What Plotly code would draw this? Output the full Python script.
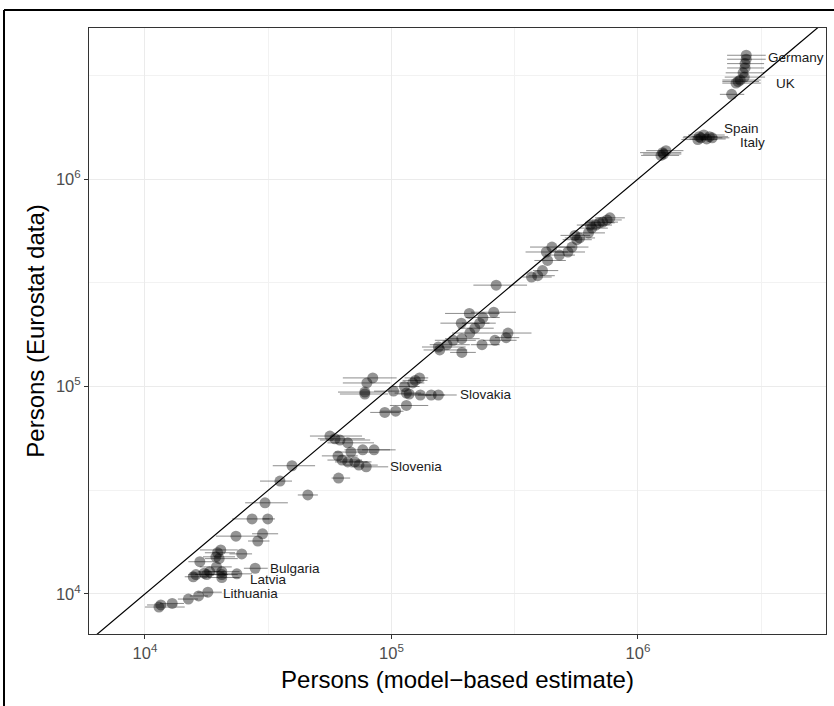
import numpy as np
import plotly.graph_objects as go

# Model-based estimate (x), its interval, and Eurostat value (y)
estimate = [
    1.14e4, 1.16e4, 1.29e4, 1.50e4, 1.65e4, 1.80e4,
    1.57e4, 1.61e4, 1.74e4, 1.78e4, 2.05e4, 2.05e4, 2.36e4, 2.80e4, 1.67e4, 1.94e4,
    2.00e4, 1.95e4, 2.03e4, 2.47e4, 1.97e4, 2.05e4, 1.83e4,
    2.34e4, 3.00e4, 2.87e4, 2.72e4, 3.15e4, 3.07e4, 3.53e4, 3.95e4, 4.58e4, 6.10e4,
    5.63e4, 5.90e4, 6.18e4, 6.65e4, 7.65e4, 8.50e4, 6.85e4, 6.07e4, 6.30e4, 6.65e4,
    7.10e4, 7.38e4, 7.90e4,
    8.40e4, 7.95e4, 7.80e4, 7.80e4, 1.25e5, 1.30e5, 1.22e5, 1.13e5, 1.02e5, 1.15e5,
    1.18e5, 1.31e5, 1.45e5, 1.55e5, 1.15e5, 1.04e5, 9.40e4,
    2.66e5, 2.60e5, 2.07e5, 2.35e5, 2.28e5, 1.92e5, 2.18e5, 2.08e5, 1.93e5, 1.78e5,
    1.68e5, 1.57e5, 1.55e5, 1.93e5, 2.33e5, 2.63e5, 2.92e5, 2.97e5,
    3.70e5, 3.92e5, 4.10e5, 4.30e5, 4.25e5, 4.48e5, 4.80e5, 5.20e5, 5.40e5, 5.65e5,
    5.80e5, 5.55e5, 6.30e5, 6.50e5, 6.75e5, 6.98e5, 7.20e5, 7.50e5, 7.70e5, 6.40e5,
    1.26e6, 1.27e6, 1.24e6, 1.30e6,
    1.80e6, 1.95e6, 1.75e6, 1.85e6, 2.00e6, 1.77e6, 1.90e6,
    2.40e6, 2.50e6, 2.55e6, 2.60e6, 2.67e6, 2.72e6, 2.72e6, 2.75e6, 2.75e6, 2.70e6,
]
estimate_lo = [
    1.00e4, 1.02e4, 1.15e4, 1.36e4, 1.52e4, 1.63e4,
    1.45e4, 1.50e4, 1.52e4, 1.60e4, 1.75e4, 1.80e4, 2.05e4, 2.52e4, 1.50e4, 1.72e4,
    1.75e4, 1.67e4, 1.67e4, 2.20e4, 1.75e4, 1.80e4, 1.64e4,
    1.94e4, 2.72e4, 2.62e4, 2.26e4, 3.00e4, 2.55e4, 2.93e4, 3.30e4, 4.17e4, 5.72e4,
    4.67e4, 5.03e4, 5.13e4, 5.50e4, 6.45e4, 7.60e4, 5.90e4, 5.22e4, 5.50e4, 5.90e4,
    6.18e4, 6.45e4, 6.82e4,
    6.35e4, 6.35e4, 6.07e4, 6.18e4, 1.11e5, 1.13e5, 1.08e5, 1.00e5, 8.50e4, 1.03e5,
    1.06e5, 1.13e5, 1.28e5, 1.37e5, 9.85e4, 9.00e4, 8.20e4,
    2.15e5, 2.10e5, 1.65e5, 2.00e5, 1.93e5, 1.58e5, 1.86e5, 1.76e5, 1.65e5, 1.50e5,
    1.43e5, 1.35e5, 1.33e5, 1.73e5, 2.10e5, 2.35e5, 2.63e5, 2.50e5,
    3.40e5, 3.60e5, 3.75e5, 3.80e5, 3.50e5, 3.65e5, 4.20e5, 4.60e5, 4.75e5, 4.95e5,
    5.05e5, 4.85e5, 5.60e5, 5.80e5, 5.90e5, 6.10e5, 6.30e5, 6.50e5, 6.70e5, 5.65e5,
    1.02e6, 1.05e6, 1.03e6, 1.08e6,
    1.52e6, 1.65e6, 1.50e6, 1.60e6, 1.70e6, 1.53e6, 1.62e6,
    2.15e6, 2.20e6, 2.20e6, 2.20e6, 2.27e6, 2.30e6, 2.30e6, 2.30e6, 2.30e6, 2.25e6,
]
estimate_hi = [
    1.45e4, 1.35e4, 1.44e4, 1.64e4, 1.80e4, 2.05e4,
    1.83e4, 1.90e4, 2.10e4, 2.17e4, 2.38e4, 2.42e4, 2.72e4, 3.15e4, 1.90e4, 2.32e4,
    2.38e4, 2.25e4, 2.38e4, 2.72e4, 2.32e4, 2.42e4, 2.10e4,
    2.88e4, 3.47e4, 3.20e4, 3.20e4, 3.37e4, 3.80e4, 3.95e4, 4.90e4, 5.03e4, 6.80e4,
    7.60e4, 7.80e4, 8.20e4, 8.50e4, 9.87e4, 1.04e5, 8.80e4, 7.30e4, 7.60e4, 8.00e4,
    8.30e4, 8.80e4, 9.70e4,
    1.05e5, 9.90e4, 9.40e4, 9.70e4, 1.40e5, 1.41e5, 1.36e5, 1.30e5, 1.13e5, 1.32e5,
    1.36e5, 1.45e5, 1.65e5, 1.84e5, 1.41e5, 1.12e5, 1.08e5,
    3.55e5, 3.20e5, 2.75e5, 2.75e5, 2.65e5, 2.50e5, 2.60e5, 2.50e5, 2.28e5, 2.20e5,
    2.08e5, 2.03e5, 2.00e5, 2.20e5, 2.75e5, 3.22e5, 3.30e5, 3.70e5,
    4.47e5, 4.60e5, 4.75e5, 5.10e5, 5.20e5, 5.55e5, 5.55e5, 6.10e5, 6.30e5, 6.50e5,
    6.70e5, 6.40e5, 7.35e5, 7.55e5, 7.85e5, 8.05e5, 8.30e5, 8.60e5, 8.85e5, 7.45e5,
    1.50e6, 1.50e6, 1.47e6, 1.53e6,
    2.20e6, 2.32e6, 2.10e6, 2.25e6, 2.35e6, 2.10e6, 2.27e6,
    2.70e6, 3.15e6, 3.10e6, 3.15e6, 3.25e6, 3.25e6, 3.25e6, 3.30e6, 3.30e6, 3.28e6,
]
eurostat = [
    8.65e3, 8.85e3, 9.00e3, 9.45e3, 9.78e3, 1.02e4,
    1.21e4, 1.24e4, 1.26e4, 1.24e4, 1.24e4, 1.28e4, 1.25e4, 1.33e4, 1.43e4, 1.51e4,
    1.48e4, 1.35e4, 1.63e4, 1.56e4, 1.58e4, 1.20e4, 1.28e4,
    1.90e4, 1.95e4, 1.80e4, 2.30e4, 2.30e4, 2.75e4, 3.50e4, 4.15e4, 3.00e4, 3.62e4,
    5.77e4, 5.60e4, 5.52e4, 5.35e4, 4.95e4, 4.95e4, 4.83e4, 4.63e4, 4.42e4, 4.33e4,
    4.33e4, 4.18e4, 4.10e4,
    1.10e5, 1.04e5, 9.40e4, 9.20e4, 1.07e5, 1.10e5, 1.04e5, 1.00e5, 9.50e4, 9.30e4,
    9.20e4, 9.10e4, 9.10e4, 9.10e4, 8.10e4, 7.60e4, 7.50e4,
    3.08e5, 2.28e5, 2.25e5, 2.15e5, 2.02e5, 2.02e5, 1.91e5, 1.81e5, 1.70e5, 1.67e5,
    1.59e5, 1.50e5, 1.55e5, 1.46e5, 1.59e5, 1.67e5, 1.72e5, 1.81e5,
    3.37e5, 3.42e5, 3.62e5, 4.05e5, 4.45e5, 4.70e5, 4.30e5, 4.45e5, 4.70e5, 5.10e5,
    5.20e5, 5.35e5, 5.50e5, 5.80e5, 6.00e5, 6.15e5, 6.20e5, 6.35e5, 6.50e5, 6.00e5,
    1.34e6, 1.32e6, 1.30e6, 1.37e6,
    1.58e6, 1.60e6, 1.55e6, 1.63e6, 1.58e6, 1.60e6, 1.56e6,
    2.56e6, 2.90e6, 2.95e6, 3.00e6, 3.25e6, 3.43e6, 3.60e6, 3.78e6, 3.95e6, 3.10e6,
]

# Country labels (text anchor, left edge)
label_names = ["Germany", "UK", "Spain", "Italy", "Slovakia", "Slovenia",
               "Bulgaria", "Latvia", "Lithuania"]
label_x = [3.30e6, 3.55e6, 2.20e6, 2.55e6, 1.87e5, 9.70e4, 3.15e4, 2.63e4, 2.03e4]
label_y = [3.85e6, 2.90e6, 1.75e6, 1.50e6, 9.20e4, 4.10e4, 1.32e4, 1.18e4, 1.01e4]

tick_vals = [1e4, 1e5, 1e6]
tick_text = ["10<sup>4</sup>", "10<sup>5</sup>", "10<sup>6</sup>"]
minor_vals = [10 ** 3.5, 10 ** 4.5, 10 ** 5.5, 10 ** 6.5]

x = np.array(estimate)
lo = np.array(estimate_lo)
hi = np.array(estimate_hi)
y = np.array(eurostat)

fig = go.Figure()
fig.add_trace(go.Scatter(
    x=x, y=y, mode="markers",
    marker=dict(size=11, color="rgba(0,0,0,0.42)", line=dict(width=0)),
    error_x=dict(type="data", symmetric=False, array=hi - x, arrayminus=x - lo,
                 color="rgba(0,0,0,0.45)", thickness=1, width=0),
    showlegend=False, hoverinfo="skip",
))
fig.add_trace(go.Scatter(
    x=[1e3, 1e7], y=[1e3, 1e7], mode="lines",
    line=dict(color="black", width=1.2), showlegend=False, hoverinfo="skip",
))

for name, lx, ly in zip(label_names, label_x, label_y):
    fig.add_annotation(x=np.log10(lx), y=np.log10(ly), text=name, showarrow=False,
                       xanchor="left", yanchor="middle",
                       font=dict(size=13.5, color="#1a1a1a"))

axis_common = dict(
    type="log", showline=True, linecolor="#333333", linewidth=1, mirror=True,
    ticks="outside", ticklen=4, tickcolor="#333333", tickwidth=1,
    tickmode="array", tickvals=tick_vals, ticktext=tick_text,
    tickfont=dict(size=16.5, color="#4d4d4d"),
    showgrid=True, gridcolor="#EBEBEB", gridwidth=1, zeroline=False,
    minor=dict(tickmode="array", tickvals=minor_vals, showgrid=True,
               gridcolor="#F2F2F2", gridwidth=1, ticks=""),
)
fig.update_xaxes(**axis_common, range=[3.773, 6.763],
                 title=dict(text="Persons (model\u2212based estimate)",
                            font=dict(size=24, color="black"), standoff=10))
fig.update_yaxes(**axis_common, range=[3.807, 6.728],
                 title=dict(text="Persons (Eurostat data)",
                            font=dict(size=24, color="black"), standoff=4))

# outer frame (left and top edges, as in the reference crop)
L, R, T, B = 89, 826, 28, 634
def px(v):
    return (v - L) / (R - L)
def py(v):
    return (B - v) / (B - T)
fig.add_shape(type="line", xref="paper", yref="paper", x0=px(4), x1=px(4),
              y0=py(710), y1=py(10), line=dict(color="black", width=2))
fig.add_shape(type="line", xref="paper", yref="paper", x0=px(4), x1=px(840),
              y0=py(10), y1=py(10), line=dict(color="black", width=2))

fig.update_layout(
    width=834, height=706,
    margin=dict(l=L, r=834 - R, t=T, b=706 - B),
    paper_bgcolor="white", plot_bgcolor="white",
    font=dict(family="Liberation Sans, Arial, sans-serif"),
)
fig.write_html(
    "out.html",
    config={"displayModeBar": False},
    post_script="document.body.style.margin='0';document.body.style.overflow='hidden';",
)
